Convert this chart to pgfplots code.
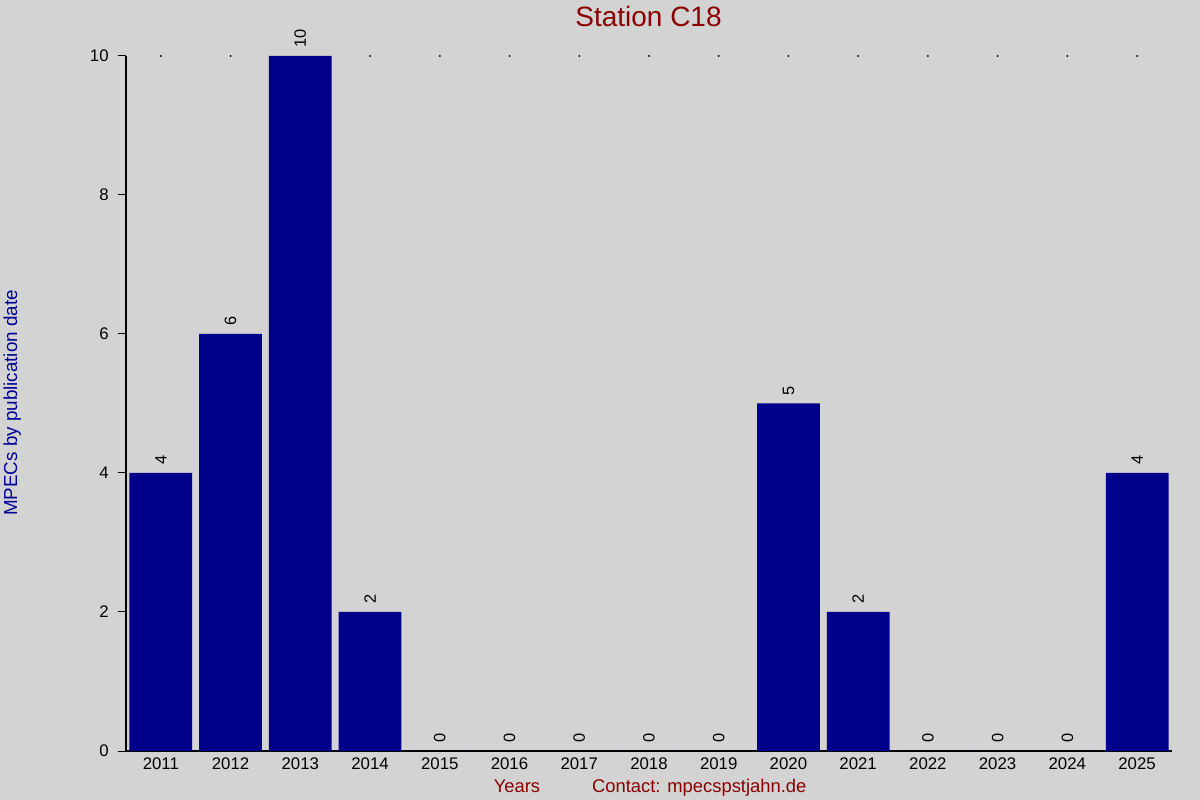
\documentclass[border=0pt]{standalone}
\usepackage{fontspec}
\setmainfont{Liberation Sans}
\usepackage{pgfplots}
\pgfplotsset{compat=1.18}
\definecolor{bg}{RGB}{211,211,211}
\definecolor{barblue}{RGB}{0,0,139}
\definecolor{titlered}{RGB}{139,0,0}
\definecolor{labblue}{RGB}{0,0,150}

\begin{document}
\begin{tikzpicture}
\path[use as bounding box, fill=bg] (0,0) rectangle (600bp,400bp);
\begin{axis}[
  at={(63bp,24.5bp)}, anchor=south west,
  scale only axis, width=523bp, height=347.5bp,
  xmin=2010.5, xmax=2025.5, ymin=0, ymax=10,
  axis x line*=bottom, axis y line*=left,
  axis line style={line width=0.6bp, black, -},
  xtick={2011,...,2025}, xtick style={draw=none},
  ytick={0,2,...,10}, tick align=outside, major tick length=4bp,
  ytick style={line width=0.5bp, black},
  /pgf/number format/assume math mode=true,
  /pgf/number format/1000 sep={},
  tick label style={font=\fontsize{8.4bp}{10bp}\selectfont},
  xticklabel style={anchor=base, yshift=-5.5bp},
  yticklabel style={anchor=east, inner sep=0pt, xshift=-4.5bp},
  clip=false,
]
\addplot[ybar, bar width=0.9, fill=barblue, draw=none,
  nodes near coords,
  every node near coord/.append style={rotate=90, anchor=west, inner sep=4bp,
    font=\fontsize{8.2bp}{10bp}\selectfont, text=black}]
  coordinates {(2011,4) (2012,6) (2013,10) (2014,2) (2015,0) (2016,0) (2017,0)
    (2018,0) (2019,0) (2020,5) (2021,2) (2022,0) (2023,0) (2024,0) (2025,4)};
\addplot[only marks, mark=*, mark size=0.22bp, black]
  coordinates {(2011,10) (2012,10) (2014,10) (2015,10) (2016,10) (2017,10)
    (2018,10) (2019,10) (2020,10) (2021,10) (2022,10) (2023,10) (2024,10) (2025,10)};
\end{axis}
\node[anchor=base, text=titlered, font=\fontsize{14bp}{16bp}\selectfont]
  at (324.25bp,386.5bp) {Station C18};
\node[rotate=90, anchor=base, inner sep=0pt, text=labblue, font=\fontsize{9.4bp}{11bp}\selectfont]
  at (8.5bp,198.5bp) {MPECs by publication date};
\node[anchor=base west, inner sep=0pt, text=titlered, font=\fontsize{9.2bp}{11bp}\selectfont]
  at (246.7bp,4bp) {Years};
\node[anchor=base west, inner sep=0pt, text=titlered, font=\fontsize{9.2bp}{11bp}\selectfont]
  at (295.8bp,4bp) {Contact: mpecspstjahn.de};
\end{tikzpicture}
\end{document}
